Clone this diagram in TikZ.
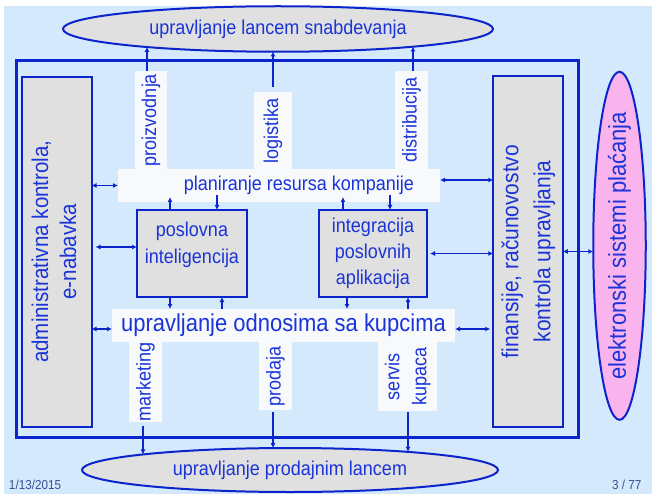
\documentclass[tikz,border=0pt]{standalone}
\usepackage{fontspec}
\setmainfont[FakeStretch=0.9]{Liberation Sans}
\usepackage{graphicx}
\usetikzlibrary{shapes.geometric,arrows.meta,calc}

\definecolor{bgblue}{RGB}{213,233,252}
\definecolor{lineblue}{RGB}{12,36,204}
\definecolor{txtblue}{RGB}{26,52,216}
\definecolor{boxgray}{RGB}{224,224,224}
\definecolor{paypink}{RGB}{249,180,238}
\definecolor{bandwhite}{RGB}{248,249,251}
\definecolor{footgray}{RGB}{55,80,150}

\newcommand\fs[2]{\fontsize{#1}{#2}\selectfont}
\newcommand\vlabel[1]{\rotatebox{90}{\begin{tabular}{@{}c@{}}#1\end{tabular}}}

\begin{document}
\begin{tikzpicture}[x=1pt,y=-1pt,
  every node/.style={text=txtblue, inner sep=0pt, outer sep=0pt},
  graybox/.style={rectangle, draw=lineblue, line width=2pt, fill=boxgray},
  oval/.style={ellipse, draw=lineblue, line width=2pt, fill=boxgray},
  band/.style={rectangle, fill=bandwhite},
  txtA/.style={font=\fs{20}{27}},
  arr/.style={draw=lineblue, line width=1.5pt, -{Latex[length=5pt,width=5pt]}},
  dbl/.style={draw=lineblue, line width=1.5pt, {Latex[length=5pt,width=5pt]}-{Latex[length=5pt,width=5pt]}},
]
\useasboundingbox (0,0) rectangle (652,494);
\clip (0,0) rectangle (652,494);
\fill[bgblue] (4,6) rectangle (652,494);

% company frame
\node[rectangle, draw=lineblue, line width=3pt, minimum width=562, minimum height=376] (frame) at (297.5,249) {};

% white bands
\node[band, minimum width=322, minimum height=33, txtA] (erp) at (279,185.5) {\hspace*{40pt}planiranje resursa kompanije};
\node[band, minimum width=343, minimum height=33, font=\fs{24.4}{28}] (crm) at (283.5,325.5) {upravljanje odnosima sa kupcima};

% vertical labels
\node[band, minimum width=32, minimum height=98, txtA] (pro) at (151,120) {\rotatebox{90}{proizvodnja}};
\node[band, minimum width=38, minimum height=77, txtA] (log) at (273,130.5) {\rotatebox{90}{logistika}};
\node[band, minimum width=33, minimum height=98, txtA] (dis) at (411.5,120) {\rotatebox{90}{distribucija}};
\node[band, minimum width=33, minimum height=81, txtA] (mkt) at (145.5,381.5) {\rotatebox{90}{marketing}};
\node[band, minimum width=33, minimum height=68, txtA] (prd) at (275.5,376) {\rotatebox{90}{prodaja}};
\node[band, minimum width=59, minimum height=69, txtA] (srv) at (407.5,376.5) {\vlabel{servis\\kupaca}};

% inner modules
\node[graybox, minimum width=110, minimum height=87,
      label={[txtA, align=center, yshift=9pt]center:poslovna\\inteligencija}] (bi) at (192,253.5) {};
\node[graybox, minimum width=108, minimum height=87, font=\fs{20}{26}, align=center] (eai) at (373,253.5) {integracija\\poslovnih\\aplikacija};

% side columns
\node[graybox, minimum width=70, minimum height=350, font=\fs{22.8}{28}] (adm) at (56.5,251.7) {\vlabel{administrativna kontrola,\\e-nabavka}};
\node[graybox, minimum width=69.5, minimum height=350.5, font=\fs{23.3}{32}] (fin) at (528,251.5) {\vlabel{finansije, računovostvo\\kontrola upravljanja}};
\node[ellipse, draw=lineblue, line width=2pt, fill=paypink, minimum width=52.5, minimum height=348,
      label={[font=\fs{24.4}{28}]center:\rotatebox{90}{elektronski sistemi plaćanja}}] (pay) at (619.5,245.8) {};

% chains
\node[oval, minimum width=430, minimum height=45.5, txtA] (sup) at (278,29) {upravljanje lancem snabdevanja};
\node[oval, minimum width=416, minimum height=44, txtA] (sal) at (290,470) {upravljanje prodajnim lancem};

% footer
\node[anchor=base west, text=footgray, font=\fs{13}{15}] (date) at (9,489) {1/13/2015};
\node[anchor=base west, text=footgray, font=\fs{13}{15}] (page) at (612,489) {3 / 77};

% points where the vertical links meet the chains
\coordinate (supA) at ($(sup.center)+(-131,17.8)$);
\coordinate (supB) at ($(sup.center)+(-5,22.5)$);
\coordinate (supC) at ($(sup.center)+(135,17.5)$);
\coordinate (salA) at ($(sal.center)+(-147,-15.6)$);
\coordinate (salB) at ($(sal.center)+(-17,-21.9)$);
\coordinate (salC) at ($(sal.center)+(118,-18.1)$);

% to the supply chain
\draw[arr] (pro.north -| supA) -- (supA);
\draw[arr, shorten <=5pt] (log.north -| supB) -- (supB);
\draw[arr] (dis.north -| supC) -- (supC);

% to the sales chain
\draw[arr, shorten <=4pt] (mkt.south -| salA) -- (salA);
\draw[arr, shorten <=2pt] (prd.south -| salB) -- (salB);
\draw[arr, shorten <=1pt] (srv.south -| salC) -- (salC);

% left column links
\coordinate (biIn) at ($(bi.west)+(0,-6.5)$);
\coordinate (crmIn) at ($(crm.west)+(0,3.5)$);
\draw[dbl] (erp.west -| adm.east) -- (erp.west);
\draw[dbl, shorten <=4pt] (biIn -| adm.east) -- (biIn);
\draw[dbl] (crmIn -| adm.east) -- (crmIn);

% right column links
\coordinate (erpOut) at ($(erp.east)+(0,-5.5)$);
\coordinate (crmOut) at ($(crm.east)+(0,3.5)$);
\draw[dbl] (erpOut) -- (erpOut -| fin.west);
\draw[dbl, shorten <=3pt] (eai.east) -- (eai.east -| fin.west);
\draw[dbl, shorten >=3pt] (crmOut) -- (crmOut -| fin.west);
\draw[dbl] (fin.east) -- (fin.east -| pay.west);

% modules and the planning band
\draw[arr] ($(bi.north)+(-22,0)$) -- ($(bi.north |- erp.south)+(-22,-5)$);
\draw[arr] ($(bi.north |- erp.south)+(25,-7)$) -- ($(bi.north)+(25,0)$);
\draw[arr] ($(eai.north)+(-30,0)$) -- ($(eai.north |- erp.south)+(-30,-5)$);
\draw[arr] ($(eai.north |- erp.south)+(17,-7)$) -- ($(eai.north)+(17,0)$);

% modules and the customer band
\draw[arr] ($(bi.south)+(-22,0)$) -- ($(bi.south |- crm.north)+(-22,0)$);
\draw[arr] ($(bi.south |- crm.north)+(30,0)$) -- ($(bi.south)+(30,0)$);
\draw[arr] ($(eai.south)+(-26,0)$) -- ($(eai.south |- crm.north)+(-26,0)$);
\draw[arr] ($(eai.south |- crm.north)+(35,0)$) -- ($(eai.south)+(35,0)$);
\end{tikzpicture}
\end{document}
